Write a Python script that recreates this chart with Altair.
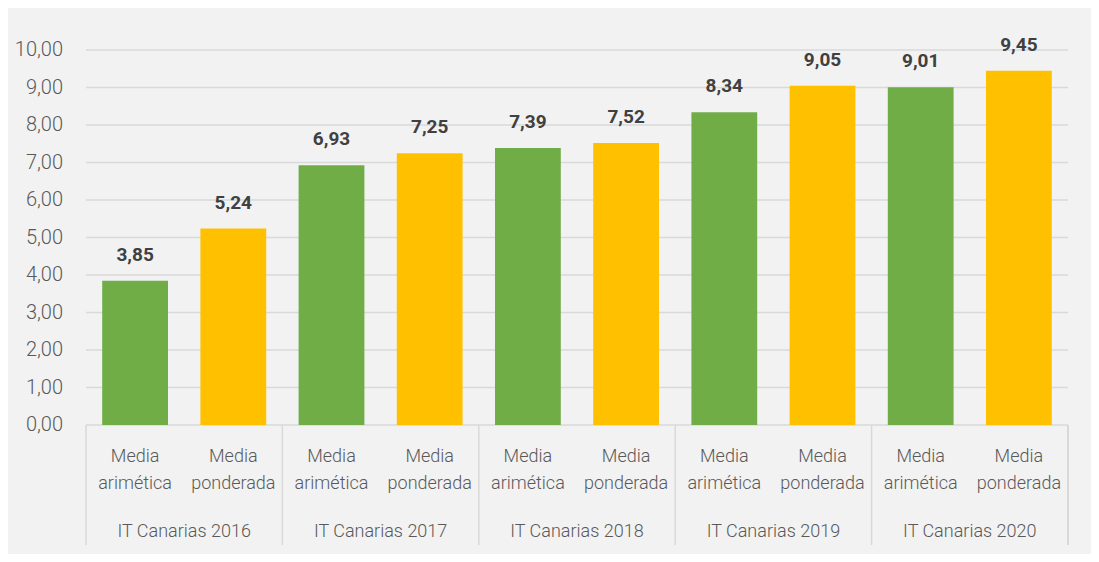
import altair as alt
import pandas as pd

groups = ["IT Canarias 2016", "IT Canarias 2017", "IT Canarias 2018", "IT Canarias 2019", "IT Canarias 2020"]
measures = ["Media\narimética", "Media\nponderada"]
aritmetica = [3.85, 6.93, 7.39, 8.34, 9.01]
ponderada = [5.24, 7.25, 7.52, 9.05, 9.45]
colors = ["#70AD47", "#FFC000"]
y_ticks = [0, 1, 2, 3, 4, 5, 6, 7, 8, 9, 10]

rows = []
for g, a, p in zip(groups, aritmetica, ponderada):
    for m, v in zip(measures, [a, p]):
        rows.append({"group": g, "measure": m, "key": g + "|" + m, "value": v,
                     "label": f"{v:.2f}".replace(".", ","), "first": m == measures[0]})
df = pd.DataFrame(rows)
keys = list(df["key"])
ticks_df = pd.DataFrame({"value": y_ticks, "label": [f"{t:.2f}".replace(".", ",") for t in y_ticks]})

W, H = 982, 375
PAD = 0.33
step = W / len(keys)
FONT = "Roboto"
GRID = "#D9D9D9"

xscale = alt.Scale(paddingInner=PAD, paddingOuter=PAD / 2)
xenc = alt.X("key:N", sort=keys, axis=None, scale=xscale)
yscale = alt.Scale(domain=[0, 10], nice=False)
yenc = alt.Y("value:Q", scale=yscale, axis=None)

base = alt.Chart(df)

grid = alt.Chart(ticks_df).mark_rule(color=GRID, strokeWidth=1.5).encode(
    y=yenc, x=alt.value(0), x2=alt.value(W))

ylabels = alt.Chart(ticks_df).mark_text(align="right", baseline="middle", font=FONT, fontSize=20,
                                        fontWeight=300, color="#595959").encode(
    y=yenc, x=alt.value(-23), text="label:N")

bars = base.mark_bar().encode(
    x=xenc, y=yenc,
    color=alt.Color("measure:N", scale=alt.Scale(domain=measures, range=colors), legend=None),
)

values = base.mark_text(baseline="bottom", dy=-16, font=FONT, fontSize=19, fontWeight="bold",
                        color="#404040").encode(x=xenc, y=yenc, text="label:N")

xlabels = base.mark_text(baseline="top", lineBreak="\n", lineHeight=27, font=FONT, fontSize=18,
                         fontWeight=300, color="#595959").encode(x=xenc, y=alt.value(H + 23), text="measure:N")

glabels = alt.Chart(df[df["first"]]).mark_text(baseline="middle", font=FONT, fontSize=18, fontWeight=300,
                                               color="#595959", xOffset=step / 2).encode(
    x=xenc, y=alt.value(H + 107), text="group:N")

left_div = alt.Chart(df[df["first"]]).mark_rule(color=GRID, strokeWidth=1.5,
                                                xOffset=-PAD * step / 2).encode(
    x=alt.X("key:N", sort=keys, axis=None, bandPosition=0, scale=xscale),
    y=alt.value(H), y2=alt.value(H + 120))

right_div = base.mark_rule(color=GRID, strokeWidth=1.5).encode(
    x=alt.value(W), y=alt.value(H), y2=alt.value(H + 120))

chart = alt.layer(grid, ylabels, bars, values, xlabels, glabels, left_div, right_div).properties(
    width=W, height=H, background="#F2F2F2",
    padding={"left": 78, "top": 42, "right": 23, "bottom": 129},
    autosize=alt.AutoSizeParams(type="none"),
).configure_view(stroke=None)

chart.save("out.html", embed_options={"renderer": "svg", "actions": False})
